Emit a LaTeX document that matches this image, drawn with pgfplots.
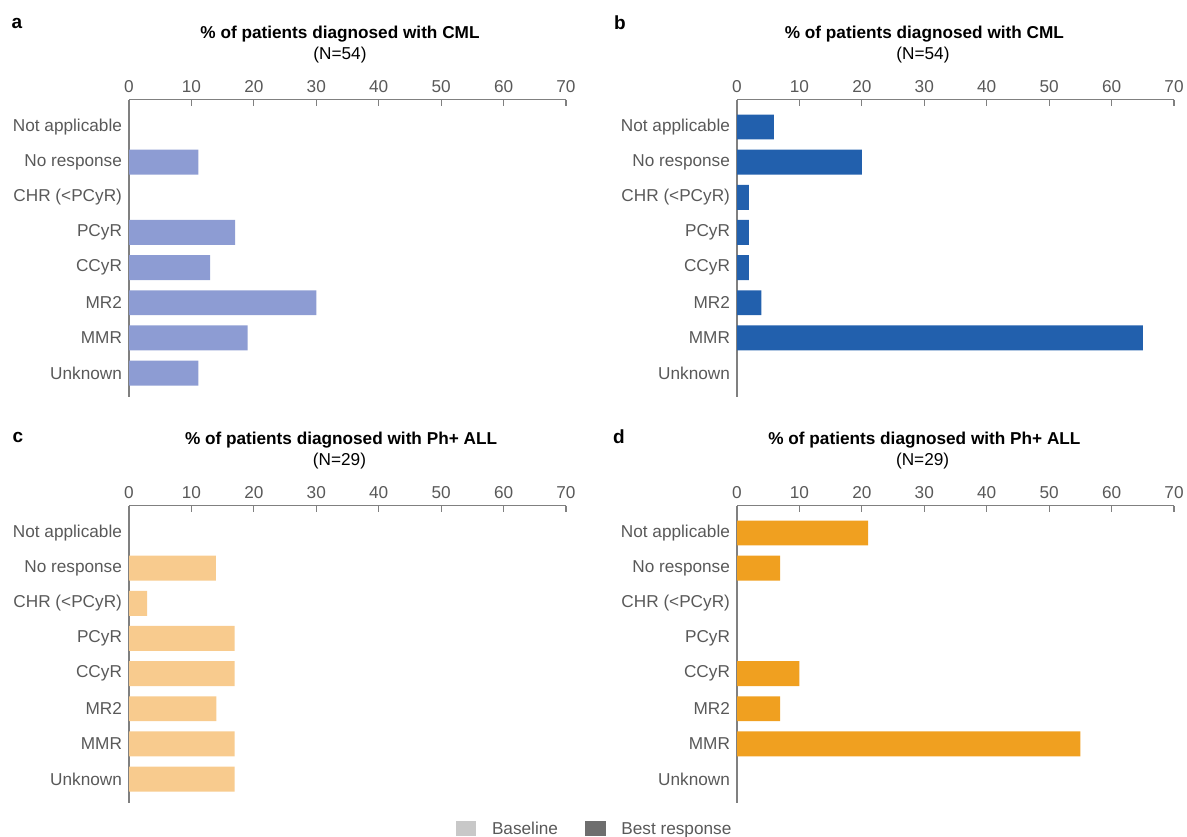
\documentclass[border=0pt]{standalone}
\usepackage{pgfplots}
\pgfplotsset{compat=1.18}
\usepackage{fontspec}
\setmainfont{Liberation Sans}

\definecolor{ca}{HTML}{8D9CD3}
\definecolor{cb}{HTML}{2260AD}
\definecolor{cc}{HTML}{F8CB8E}
\definecolor{cd}{HTML}{F0A020}
\definecolor{axisgray}{HTML}{808080}
\definecolor{labgray}{HTML}{595959}
\definecolor{legl}{HTML}{C8C8C8}
\definecolor{legd}{HTML}{6E6E6E}

\newcommand{\fs}{\fontsize{8.6}{10}\selectfont}

\pgfplotsset{
 panel/.style={
  scale only axis, width=218.5pt, height=148.5pt,
  anchor=north west,
  xbar, bar width=0.71,
  xmin=0, xmax=70, ymin=-0.67, ymax=7.78,
  axis x line*=top, axis y line*=left,
  xtick={0,10,...,70},
  ytick={0,...,7},
  yticklabels={Unknown,MMR,MR2,CCyR,PCyR,CHR (<PCyR),No response,Not applicable},
  axis line style={axisgray, line width=0.6pt},
  major tick length=3pt,
  tick align=inside,
  xtick style={axisgray, line width=0.6pt},
  ytick style={draw=none},
  ticklabel style={font=\fs, text=labgray},
  /pgf/number format/assume math mode=true,
  clip=false,
 }
}

\begin{document}
\begin{tikzpicture}
\useasboundingbox (0,0) rectangle (593.5pt,418pt);

% Panel a
\begin{axis}[panel, at={(64.5pt,368.2pt)}]
\addplot[draw=none, fill=ca] coordinates {(11.1,6) (17,4) (13,3) (30,2) (19,1) (11.1,0)};
\end{axis}

% Panel b
\begin{axis}[panel, at={(368.5pt,368.2pt)}]
\addplot[draw=none, fill=cb] coordinates {(5.9,7) (20,6) (1.9,5) (1.9,4) (1.9,3) (3.9,2) (65,1)};
\end{axis}

% Panel c
\begin{axis}[panel, at={(64.5pt,165.2pt)}]
\addplot[draw=none, fill=cc] coordinates {(13.9,6) (2.9,5) (16.9,4) (16.9,3) (14,2) (16.9,1) (16.9,0)};
\end{axis}

% Panel d
\begin{axis}[panel, at={(368.5pt,165.2pt)}]
\addplot[draw=none, fill=cd] coordinates {(21,7) (6.9,6) (10,3) (6.9,2) (55,1)};
\end{axis}

% Titles
\node[font=\bfseries\fs] at (170pt,400.75pt) {\% of patients diagnosed with CML};
\node[font=\fs] at (170pt,390.4pt) {(N=54)};
\node[font=\bfseries\fs] at (462.2pt,400.75pt) {\% of patients diagnosed with CML};
\node[font=\fs] at (461.5pt,390.4pt) {(N=54)};
\node[font=\bfseries\fs] at (170.5pt,197.9pt) {\% of patients diagnosed with Ph+ ALL};
\node[font=\fs] at (169.75pt,187.4pt) {(N=29)};
\node[font=\bfseries\fs] at (462.2pt,197.9pt) {\% of patients diagnosed with Ph+ ALL};
\node[font=\fs] at (461.3pt,187.4pt) {(N=29)};

% Panel letters
\node[font=\bfseries\fontsize{9.5}{11}\selectfont] at (8.5pt,406.5pt) {a};
\node[font=\bfseries\fontsize{9.5}{11}\selectfont] at (310pt,406.5pt) {b};
\node[font=\bfseries\fontsize{9.5}{11}\selectfont] at (9pt,199.5pt) {c};
\node[font=\bfseries\fontsize{9.5}{11}\selectfont] at (309.5pt,199.5pt) {d};

% Legend
\fill[legl] (228pt,0pt) rectangle (238pt,7.5pt);
\node[font=\fs, text=labgray, anchor=base west, inner sep=0pt] at (245.8pt,0.6pt) {Baseline};
\fill[legd] (292.5pt,0pt) rectangle (303pt,7.5pt);
\node[font=\fs, text=labgray, anchor=base west, inner sep=0pt] at (310.5pt,0.6pt) {Best response};
\end{tikzpicture}
\end{document}
